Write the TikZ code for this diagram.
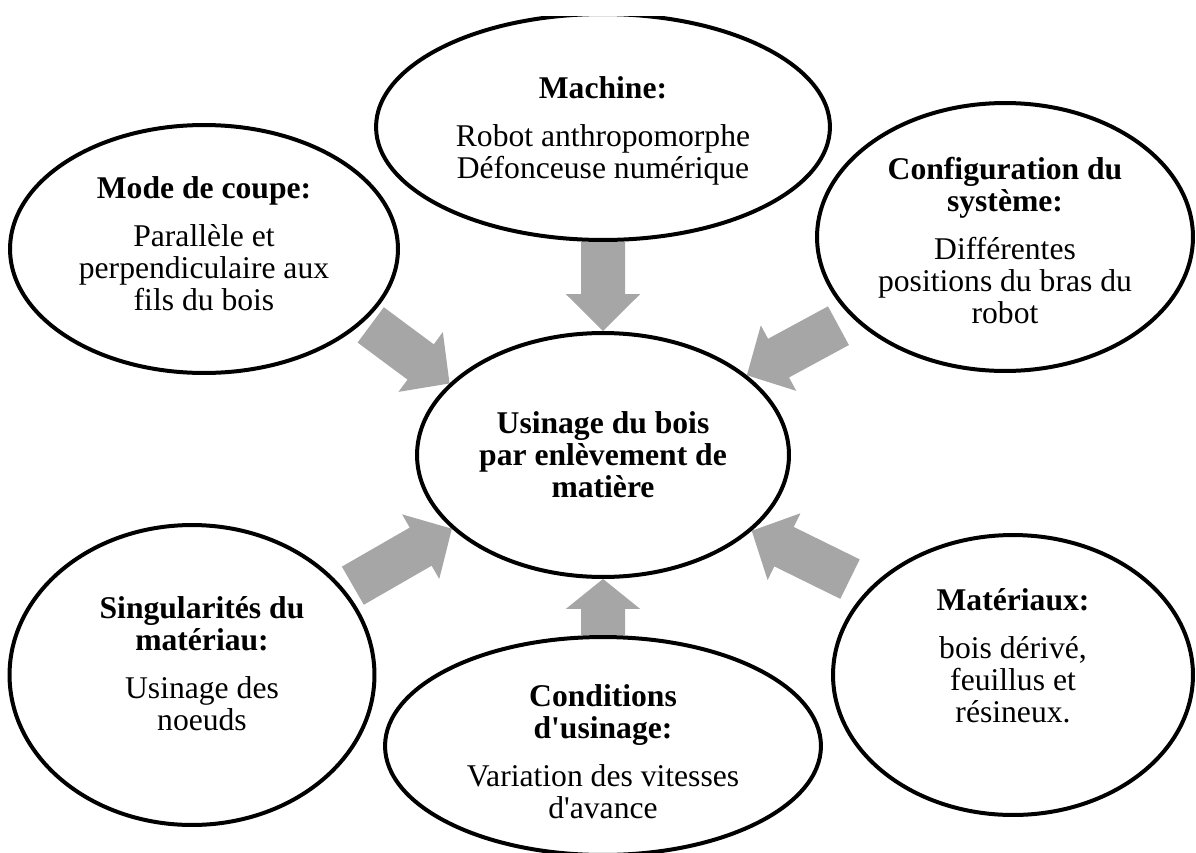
\documentclass[tikz,border=0pt]{standalone}
\usepackage{fontspec}
\setmainfont{Liberation Serif}
\usetikzlibrary{shapes.geometric,backgrounds,calc}
\definecolor{grisfleche}{HTML}{A6A6A6}
\newcommand{\apos}{\textquotesingle}
% grosse fleche pleine : depart, arrivee, recul du depart, longueur de la pointe
\newcommand{\grossefleche}[4]{%
	\coordinate (fd) at ($(#1)!#3!(#2)$);
	\coordinate (fp) at ($(#2)!#4!(#1)$);
	\fill[fleche] ($(fd)!0.44cm!90:(#2)$) -- ($(fp)!0.44cm!-90:(fd)$) -- ($(fp)!0.745cm!-90:(fd)$)
		-- (#2) -- ($(fp)!0.745cm!90:(fd)$) -- ($(fp)!0.44cm!90:(fd)$) -- ($(fd)!0.44cm!-90:(#2)$) -- cycle;}
\tikzset{
  bulle/.style={draw, ellipse, line width=0.08cm, fill=white},
  texte/.style={align=center, inner sep=0pt, font=\fontsize{18}{18.2}\selectfont},
  fleche/.style={fill=grisfleche}
}

\begin{document}
\begin{tikzpicture}[x=0.02cm, y=-0.02cm]
	\useasboundingbox (0,0) rectangle (1196,852);
	\clip (0,16) rectangle (1196,852);
	% les bulles
	\node[bulle, minimum width=7.44cm, minimum height=4.88cm] (centre) at (603,455) {};
	\node[bulle, minimum width=9.08cm, minimum height=4.52cm] (machine) at (603,127) {};
	\node[bulle, minimum width=7.76cm, minimum height=4.96cm] (mode) at (204,249) {};
	\node[bulle, minimum width=7.52cm, minimum height=5.36cm] (config) at (1005,237) {};
	\node[bulle, minimum width=7.3cm, minimum height=6cm] (singul) at (192,675) {};
	\node[bulle, minimum width=8.72cm, minimum height=4.36cm] (conditions) at (603,746) {};
	\node[bulle, minimum width=7.2cm, minimum height=5.6cm] (materiaux) at (1013,675) {};
	% les textes
	\node[texte, font=\fontsize{18}{18.2}\selectfont\bfseries] (tcentre) at (centre.center) {Usinage du bois\\ par enlèvement de\\ matière};
	\node[texte] (tmachine) at ([yshift=-0.08cm]machine.center) {\textbf{Machine:}\\[9pt] Robot anthropomorphe\\ Défonceuse numérique};
	\node[texte] (tmode) at ([yshift=0.1cm]mode.center) {\textbf{Mode de coupe:}\\[9pt] Parallèle et\\ perpendiculaire aux\\ fils du bois};
	\node[texte] (tconfig) at ([yshift=-0.07cm]config.center) {\textbf{Configuration du}\\ \textbf{système:}\\[9pt] Différentes\\ positions du bras du\\ robot};
	\node[texte] (tsingul) at ([xshift=0.2cm, yshift=0.22cm]singul.center) {\textbf{Singularités du}\\ \textbf{matériau:}\\[9pt] Usinage des\\ noeuds};
	\node[texte] (tconditions) at ([yshift=-0.11cm]conditions.center) {\textbf{Conditions}\\ \textbf{d\apos usinage:}\\[9pt] Variation des vitesses\\ d\apos avance};
	\node[texte] (tmateriaux) at ([yshift=0.38cm]materiaux.center) {\textbf{Matériaux:}\\[9pt] bois dérivé,\\ feuillus et\\ résineux.};
	% les fleches
	\begin{scope}[on background layer]
		\grossefleche{machine.south}{centre.north}{0cm}{0.74cm}
		\grossefleche{conditions.north}{centre.south}{0cm}{0.6cm}
		\grossefleche{mode.-24}{centre.155}{0.14cm}{0.72cm}
		\grossefleche{config.208}{centre.29}{0.32cm}{0.72cm}
		\grossefleche{singul.29}{centre.206}{0.18cm}{0.72cm}
		\grossefleche{materiaux.149}{centre.333}{0.42cm}{0.72cm}
	\end{scope}
\end{tikzpicture}
\end{document}
